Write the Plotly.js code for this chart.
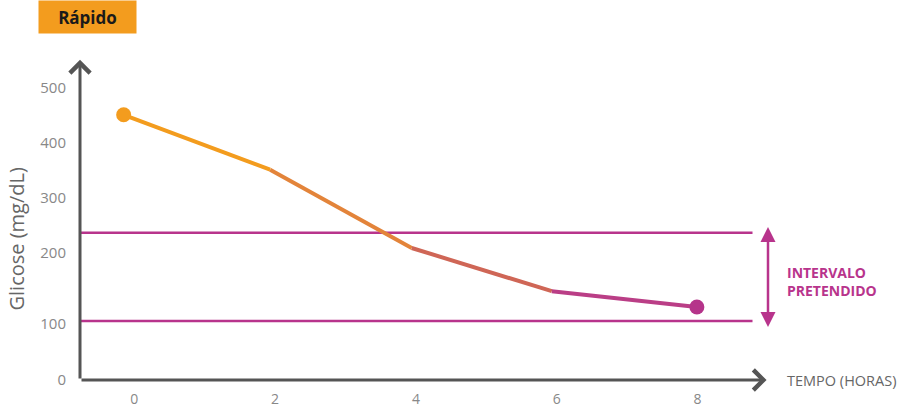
<!DOCTYPE html>
<html>
<head>
<meta charset="utf-8">
<script src="https://cdn.plot.ly/plotly-3.0.1.min.js"></script>
<style>
html, body { margin: 0; padding: 0; background: #fff; }
#chart { width: 902px; height: 408px; }
</style>
</head>
<body>
<div id="chart"></div>
<script>
// glicose ao longo do tempo
var hours = [-0.15, 1.93, 3.94, 5.93, 7.99];
var glucose = [454, 360, 226, 152, 125];

// intervalo pretendido
var rangeLow = 101;
var rangeHigh = 252;
var rangeX = [-0.77, 8.78];

// eixo y: posições das etiquetas como aparecem no desenho
var yTickVals = [0, 96, 217, 312, 406, 500];
var yTickText = ['0', '100', '200', '300', '400', '500'];
var xTickVals = [0, 2, 4, 6, 8];

var segColors = ['#F39C1E', '#E3843A', '#CF6656', '#BA3E86'];
var magenta = '#B8348C';
var axisGrey = '#555555';

// margens do gráfico, para converter pixels em coordenadas de papel
var M = {l: 80, r: 134, t: 40, b: 28};
var plotW = 902 - M.l - M.r;
var plotH = 408 - M.t - M.b;
function px(x) { return (x - M.l) / plotW; }
function py(y) { return (408 - M.b - y) / plotH; }

var traces = [];

traces.push({
    x: rangeX, y: [rangeHigh, rangeHigh],
    mode: 'lines', line: {color: magenta, width: 2.5},
    hoverinfo: 'skip', showlegend: false
});
traces.push({
    x: rangeX, y: [rangeLow, rangeLow],
    mode: 'lines', line: {color: magenta, width: 2.5},
    hoverinfo: 'skip', showlegend: false
});

for (var i = 0; i < hours.length - 1; i++) {
    traces.push({
        x: [hours[i], hours[i + 1]],
        y: [glucose[i], glucose[i + 1]],
        mode: 'lines',
        line: {color: segColors[i], width: 4},
        showlegend: false
    });
}

traces.push({
    x: [hours[0], hours[hours.length - 1]],
    y: [glucose[0], glucose[glucose.length - 1]],
    mode: 'markers',
    marker: {size: 15, color: [segColors[0], '#B5348A']},
    showlegend: false
});

var layout = {
    width: 902,
    height: 408,
    margin: M,
    paper_bgcolor: '#ffffff',
    plot_bgcolor: '#ffffff',
    font: {family: '"Open Sans", sans-serif', color: '#888888', size: 15},
    showlegend: false,
    xaxis: {
        range: [-0.77, 9.0],
        tickvals: xTickVals,
        showgrid: false, zeroline: false, showline: false,
        ticks: '', ticklabelstandoff: 9,
        tickfont: {size: 14, color: '#888888'},
        fixedrange: true
    },
    yaxis: {
        range: [0, 582],
        tickvals: yTickVals,
        ticktext: yTickText,
        showgrid: false, zeroline: false, showline: false,
        ticks: '', ticklabelstandoff: 13,
        tickfont: {size: 15, color: '#888888'},
        fixedrange: true
    },
    annotations: [
        // eixo y com seta
        {x: -0.77, y: 548, ax: -0.77, ay: 0, xref: 'x', yref: 'y', axref: 'x', ayref: 'y',
         text: '', showarrow: true, arrowhead: 4, arrowsize: 1.3, arrowwidth: 3, arrowcolor: axisGrey},
        // eixo x com seta
        {x: 8.98, y: 0, ax: -0.77, ay: 0, xref: 'x', yref: 'y', axref: 'x', ayref: 'y',
         text: '', showarrow: true, arrowhead: 4, arrowsize: 1.3, arrowwidth: 3, arrowcolor: axisGrey},
        // seta dupla do intervalo
        {x: 9.0, y: 262, ax: 9.0, ay: 88, xref: 'x', yref: 'y', axref: 'x', ayref: 'y',
         text: '', showarrow: true, arrowhead: 2, arrowside: 'end+start', arrowsize: 1.2,
         arrowwidth: 2.5, arrowcolor: magenta},
        {x: px(785), y: py(281), xref: 'paper', yref: 'paper', xanchor: 'left', yanchor: 'middle',
         text: '<b>INTERVALO<br>PRETENDIDO</b>', showarrow: false, align: 'left',
         font: {size: 14, color: magenta}},
        {x: px(785), y: py(380), xref: 'paper', yref: 'paper', xanchor: 'left', yanchor: 'middle',
         text: 'TEMPO (HORAS)', showarrow: false,
         font: {size: 14.5, color: '#666666'}},
        {x: px(1), y: py(239), xref: 'paper', yref: 'paper', xanchor: 'left', yanchor: 'middle',
         text: 'Glicose (mg/dL)', showarrow: false, textangle: -90,
         font: {size: 20, color: '#666666'}},
        // etiqueta "Rápido"
        {x: px(38), y: py(0), xref: 'paper', yref: 'paper', xanchor: 'left', yanchor: 'top',
         text: '<b>Rápido</b>', showarrow: false,
         width: 97, height: 32, borderpad: 0,
         bgcolor: '#F39C1E',
         font: {size: 17, color: '#1a1a1a'}}
    ]
};

Plotly.newPlot('chart', traces, layout, {displayModeBar: false, staticPlot: true});
</script>
</body>
</html>
